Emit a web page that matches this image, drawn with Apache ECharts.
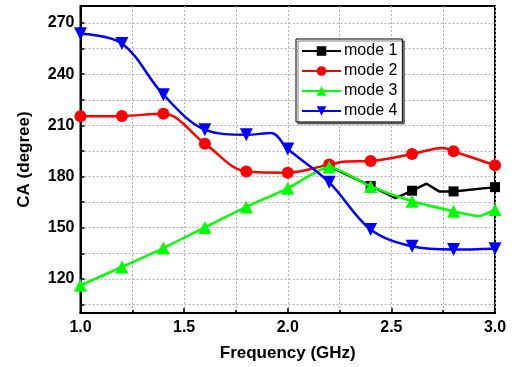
<!DOCTYPE html>
<html><head><meta charset="utf-8">
<script src="https://cdn.jsdelivr.net/npm/echarts@6/dist/echarts.min.js"></script>
<style>html,body{margin:0;padding:0;background:#fff}#c{width:515px;height:367px}</style>
</head><body><div id="c"></div>
<script>
// Frequency (GHz) at marker points
const freq = [1.0, 1.2, 1.4, 1.6, 1.8, 2.0, 2.2, 2.4, 2.6, 2.8, 3.0];
// CA (degree) per mode at marker points (null = not visible)
const mode1 = [null, null, null, null, null, null, 186.0, 174.5, 171.7, 171.3, 173.8];
const mode2 = [215.3, 215.5, 216.8, 199.3, 183.0, 182.3, 187.0, 189.1, 193.2, 194.8, 186.6];
const mode3 = [116.2, 127.0, 138.1, 150.2, 162.2, 173.1, 185.6, 174.2, 165.5, 159.6, 160.6];
const mode4 = [263.7, 258.0, 228.0, 207.5, 204.5, 196.2, 176.6, 148.9, 139.1, 137.2, 137.7];
// extra curve points (no marker)
const mode1Extra = [[2.52, 167.4], [2.67, 175.8], [2.73, 171.3]];
const mode2Extra = [[2.28, 188.8], [2.75, 196.8]];
const mode3Extra = [[2.92, 156.8]];
const mode4Extra = [[1.92, 205.5]];
const names = ['mode 1', 'mode 2', 'mode 3', 'mode 4'];
const yLabels = [120, 150, 180, 210, 240, 270];
const yGrid = [105, 120, 135, 150, 165, 180, 195, 210, 225, 240, 255, 270];

function build(vals, extra) {
  const pts = [];
  vals.forEach((v, i) => { if (v !== null) pts.push({ value: [freq[i], v] }); });
  extra.forEach(p => pts.push({ value: p, symbol: 'none' }));
  pts.sort((a, b) => a.value[0] - b.value[0]);
  return pts;
}

const chart = echarts.init(document.getElementById('c'));
const font = 'Arial, "Liberation Sans", sans-serif';
const mk = (name, color, symbol, size, data, smooth, z) => ({
  name, type: 'line', data, smooth, symbol, symbolSize: size, z,
  itemStyle: { color }, lineStyle: { color, width: 2.5 }, showSymbol: true,
  animation: false
});
chart.setOption({
  animation: false,
  grid: { left: 80.5, right: 20, top: 6, bottom: 54, show: true, borderColor: '#000', borderWidth: 2, backgroundColor: 'transparent' },
  legend: {
    orient: 'vertical', left: 296, top: 39, itemWidth: 39, itemHeight: 12, itemGap: 4,
    padding: [4, 5, 3, 5], borderColor: '#000', borderWidth: 1, backgroundColor: '#fff',
    shadowColor: 'rgba(0,0,0,0.5)', shadowOffsetX: 2, shadowOffsetY: 2, shadowBlur: 0,
    textStyle: { fontFamily: font, fontSize: 16, color: '#000', padding: [0, 0, 0, -2] },
    data: names
  },
  xAxis: {
    type: 'value', min: 1, max: 3, interval: 0.5,
    name: 'Frequency (GHz)', nameLocation: 'middle', nameGap: 32,
    nameTextStyle: { fontFamily: font, fontWeight: 'bold', fontSize: 17, color: '#000' },
    axisLine: { lineStyle: { color: '#000', width: 2 } },
    axisTick: { inside: true, length: 5, lineStyle: { color: '#000', width: 1.5 } },
    minorTick: { show: true, splitNumber: 2, length: 3, lineStyle: { color: '#000', width: 1.5 } },
    axisLabel: { fontFamily: font, fontWeight: 'bold', fontSize: 16, color: '#000', margin: 7,
      formatter: v => v.toFixed(1) },
    splitLine: { show: true, lineStyle: { color: '#b0b0b0', type: [2, 2], width: 1 } },
    minorSplitLine: { show: true, lineStyle: { color: '#b0b0b0', type: [2, 2], width: 1 } }
  },
  yAxis: {
    type: 'value', min: 100, max: 280,
    name: 'CA (degree)', nameLocation: 'middle', nameGap: 48,
    nameTextStyle: { fontFamily: font, fontWeight: 'bold', fontSize: 17, color: '#000' },
    axisLine: { show: true, lineStyle: { color: '#000', width: 2 } },
    axisTick: { show: true, inside: true, length: 4, customValues: yGrid, lineStyle: { color: '#000', width: 1.5 } },
    axisLabel: { fontFamily: font, fontWeight: 'bold', fontSize: 16, color: '#000', margin: 6, customValues: yLabels },
    splitLine: { show: true, lineStyle: { color: '#b0b0b0', type: [2, 2], width: 1 } }
  },
  series: [
    mk(names[0], '#000000', 'rect', 10, build(mode1, mode1Extra), false, 2),
    mk(names[1], '#ff0000', 'circle', 12, build(mode2, mode2Extra), 0.35, 3),
    mk(names[2], '#00ff00', 'triangle', 13, build(mode3, mode3Extra), 0.2, 4),
    mk(names[3], '#0000ff', 'path://M0,0 L10,0 L5,9 Z', 13, build(mode4, mode4Extra), 0.35, 5)
  ]
});
</script></body></html>
